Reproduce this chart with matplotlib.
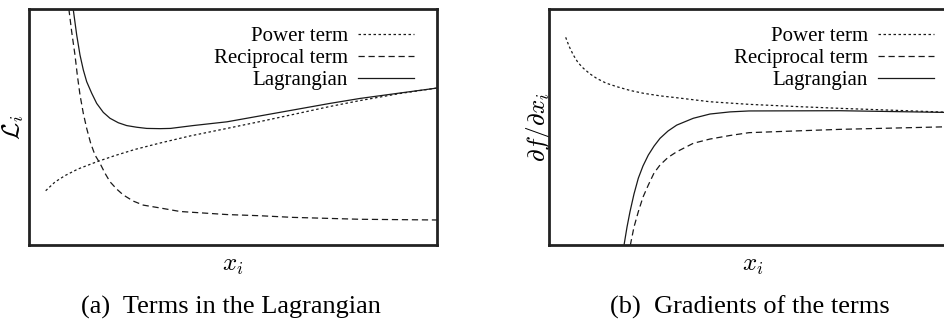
import matplotlib
matplotlib.use("Agg")
import matplotlib.pyplot as plt

plt.rcParams["font.family"] = ["Liberation Serif", "DejaVu Serif"]
plt.rcParams["mathtext.fontset"] = "cm"

# (a) terms of the Lagrangian
power_x = [0.409, 0.637, 0.882, 1.201, 1.667, 2.108, 2.598, 3.211, 3.946, 4.853,
           5.662, 6.471, 7.377, 8.113, 9.093, 10.0]
power_y = [2.30, 2.67, 2.94, 3.22, 3.53, 3.79, 4.05, 4.32, 4.62, 4.94,
           5.23, 5.53, 5.87, 6.12, 6.42, 6.65]

recip_x = [0.907, 0.980, 1.046, 1.127, 1.184, 1.250, 1.331, 1.414, 1.512, 1.618,
           1.740, 1.863, 1.985, 2.149, 2.311, 2.556, 2.801, 3.211, 3.701, 4.853,
           5.662, 6.471, 8.113, 10.0]
recip_y = [11.23, 9.96, 9.04, 8.05, 7.20, 6.36, 5.58, 4.94, 4.31, 3.81,
           3.46, 3.04, 2.68, 2.37, 2.12, 1.86, 1.69, 1.57, 1.42, 1.29,
           1.24, 1.17, 1.09, 1.06]

lag_x = [1.054, 1.086, 1.169, 1.250, 1.331, 1.414, 1.537, 1.659, 1.821, 1.985,
         2.189, 2.395, 2.640, 2.885, 3.211, 3.468, 4.020, 4.853, 5.662, 6.471,
         7.377, 8.113, 9.093, 10.0]
lag_y = [11.23, 9.96, 8.90, 8.05, 7.42, 6.92, 6.43, 6.00, 5.62, 5.37,
         5.18, 5.06, 4.99, 4.94, 4.93, 4.94, 5.06, 5.22, 5.47, 5.72,
         6.00, 6.21, 6.44, 6.65]

# (b) gradients of the terms
gpower_x = [0.409, 0.490, 0.596, 0.711, 0.841, 1.005, 1.169, 1.397, 1.659, 1.985,
            2.311, 2.721, 3.130, 3.946, 4.902, 6.152, 7.132, 8.603, 10.0]
gpower_y = [8.80, 8.43, 8.05, 7.73, 7.49, 7.25, 7.06, 6.86, 6.71, 6.55,
            6.43, 6.32, 6.24, 6.07, 5.96, 5.86, 5.79, 5.70, 5.61]

grecip_x = [1.887, 2.002, 2.083, 2.189, 2.304, 2.434, 2.574, 2.721, 2.917, 3.130,
            3.537, 3.946, 4.436, 4.902, 6.152, 7.132, 10.0]
grecip_y = [-1.27, 0.07, 0.76, 1.41, 2.03, 2.54, 3.05, 3.39, 3.71, 3.95,
            4.31, 4.49, 4.64, 4.76, 4.84, 4.90, 5.02]

glag_x = [1.740, 1.846, 1.912, 1.985, 2.083, 2.189, 2.304, 2.434, 2.574, 2.721,
          2.917, 3.130, 3.537, 3.946, 4.436, 4.902, 7.132, 10.0]
glag_y = [-1.27, 0.07, 0.76, 1.41, 2.16, 2.83, 3.35, 3.81, 4.19, 4.52,
          4.83, 5.08, 5.37, 5.55, 5.64, 5.68, 5.69, 5.61]

labels = ["Power term", "Reciprocal term", "Lagrangian"]
styles = [(0, (2, 2)), (0, (5, 3)), "-"]

fig = plt.figure(figsize=(9.44, 3.21), dpi=100)
ax1 = fig.add_axes([29 / 944, 76 / 321, 408 / 944, 236 / 321])
ax2 = fig.add_axes([549 / 944, 76 / 321, 408 / 944, 236 / 321])

series = [
    (ax1, [(power_x, power_y), (recip_x, recip_y), (lag_x, lag_y)]),
    (ax2, [(gpower_x, gpower_y), (grecip_x, grecip_y), (glag_x, glag_y)]),
]

for ax, curves in series:
    for (x, y), lab, ls in zip(curves, labels, styles):
        ax.plot(x, y, color="#1a1a1a", lw=0.9, ls=ls, label=lab)
    ax.set_xlim(0, 10)
    ax.set_ylim(0, 10)
    ax.set_xticks([])
    ax.set_yticks([])
    for sp in ax.spines.values():
        sp.set_linewidth(2.0)
        sp.set_color("#222222")
    ax.set_xlabel("$x_i$", fontsize=18, labelpad=7)
    ax.legend(loc="upper right", bbox_to_anchor=(0.988, 1.0), frameon=False,
              markerfirst=False, fontsize=15, handlelength=2.7,
              labelspacing=0.12, handletextpad=0.5, borderaxespad=0.45)

ax1.set_ylabel(r"$\mathcal{L}_i$", fontsize=18, labelpad=2)
ax2.set_ylabel(r"$\partial f/\partial x_i$", fontsize=18, labelpad=-3)

fig.text(231 / 944, 1 - 307 / 321, "(a)  Terms in the Lagrangian",
         ha="center", va="center", fontsize=19)
fig.text(750 / 944, 1 - 307 / 321, "(b)  Gradients of the terms",
         ha="center", va="center", fontsize=19)

fig.savefig("out.png", dpi=100)
